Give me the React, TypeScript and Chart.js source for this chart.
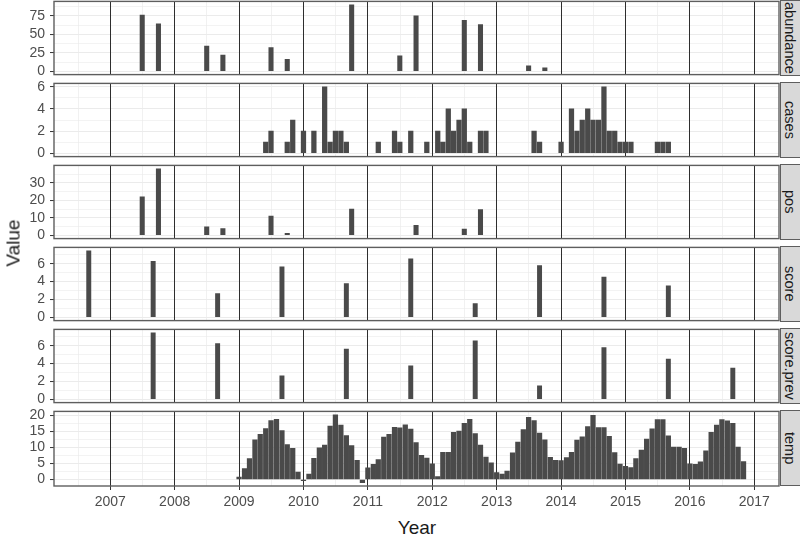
import React, { useEffect, useRef } from 'react';
import { Chart, registerables } from 'chart.js';

Chart.register(...registerables);

// ---------------- data ----------------
const yearTicks = [2007, 2008, 2009, 2010, 2011, 2012, 2013, 2014, 2015, 2016, 2017];

const abundanceDates = [
  '2007-07-01', '2007-10-01', '2008-07-01', '2008-10-01', '2009-07-01', '2009-10-01',
  '2010-10-01', '2011-07-01', '2011-10-01', '2012-07-01', '2012-10-01', '2013-07-01', '2013-10-01',
];
const abundanceValues = [76, 64, 34, 22, 32, 16, 90, 21, 75, 69, 63, 7.5, 4.5];

const casesMonths = [
  '2009-06', '2009-07', '2009-10', '2009-11', '2010-01', '2010-03', '2010-05', '2010-06', '2010-07',
  '2010-08', '2010-09', '2011-03', '2011-06', '2011-07', '2011-09', '2011-12', '2012-02', '2012-03',
  '2012-04', '2012-05', '2012-06', '2012-07', '2012-08', '2012-10', '2012-11', '2013-08', '2013-09',
  '2014-01', '2014-03', '2014-04', '2014-05', '2014-06', '2014-07', '2014-08', '2014-09', '2014-10',
  '2014-11', '2014-12', '2015-01', '2015-02', '2015-07', '2015-08', '2015-09',
];
const casesValues = [
  1, 2, 1, 3, 2, 2, 6, 1, 2,
  2, 1, 1, 2, 1, 2, 1, 2, 1,
  4, 2, 3, 4, 1, 2, 2, 2, 1,
  1, 4, 2, 3, 4, 3, 3, 6, 2,
  2, 1, 1, 1, 1, 1, 1,
];

const posDates = [
  '2007-07-01', '2007-10-01', '2008-07-01', '2008-10-01', '2009-07-01', '2009-10-01',
  '2010-10-01', '2011-10-01', '2012-07-01', '2012-10-01',
];
const posValues = [22, 38.2, 4.9, 3.8, 11, 1.1, 15, 5.7, 3.5, 14.8];

const scoreDates = [
  '2006-09-01', '2007-09-01', '2008-09-01', '2009-09-01', '2010-09-01',
  '2011-09-01', '2012-09-01', '2013-09-01', '2014-09-01', '2015-09-01',
];
const scoreValues = [7.45, 6.25, 2.65, 5.64, 3.76, 6.53, 1.53, 5.79, 4.51, 3.51];

const scorePrevDates = [
  '2007-09-01', '2008-09-01', '2009-09-01', '2010-09-01', '2011-09-01',
  '2012-09-01', '2013-09-01', '2014-09-01', '2015-09-01', '2016-09-01',
];
const scorePrevValues = [7.46, 6.25, 2.64, 5.64, 3.75, 6.54, 1.5, 5.79, 4.5, 3.5];

const tempStartYear = 2009;
const tempValues = [
  0.7, 3.4, 6.5, 12.4, 14.1, 15.9, 18.4, 18.8, 15.3, 10.9, 9.7, 2.3, // 2009
  -0.4, 1.7, 6.6, 9.9, 10.7, 16.7, 20.2, 17.0, 13.7, 10.6, 6.0, -1.0, // 2010
  3.6, 4.7, 6.2, 13.2, 14.1, 16.3, 16.1, 17.1, 15.7, 11.5, 7.5, 6.7, // 2011
  4.9, 0.9, 8.5, 8.5, 14.7, 15.1, 17.5, 18.8, 14.3, 10.7, 7.0, 5.2, // 2012
  2.1, 1.7, 2.6, 8.3, 11.7, 15.6, 19.4, 18.4, 14.5, 12.4, 6.9, 6.0, // 2013
  5.9, 6.8, 8.5, 12.3, 13.3, 16.5, 20.0, 16.2, 16.2, 13.5, 8.4, 4.8, // 2014
  4.1, 3.7, 6.5, 9.2, 12.6, 15.8, 18.7, 18.7, 13.6, 10.1, 10.1, 9.7, // 2015
  4.9, 4.7, 5.5, 8.9, 14.7, 17.0, 18.7, 18.3, 17.5, 10.1, 5.6, // 2016
];

const abundanceTicks = [0, 25, 50, 75];
const casesTicks = [0, 2, 4, 6];
const posTicks = [0, 10, 20, 30];
const scoreTicks = [0, 2, 4, 6];
const scorePrevTicks = [0, 2, 4, 6];
const tempTicks = [0, 5, 10, 15, 20];

const panelLabels = ['abundance', 'cases', 'pos', 'score', 'score.prev', 'temp'];

// ---------------- helpers ----------------
function toYear(s: string): number {
  const parts = s.split('-').map(Number);
  const y = parts[0];
  const m = parts[1] || 1;
  const d = parts[2] || 1;
  const start = Date.UTC(y, 0, 1);
  const end = Date.UTC(y + 1, 0, 1);
  return y + (Date.UTC(y, m - 1, d) - start) / (end - start);
}

const tempMonths = tempValues.map((_, i) => {
  const y = tempStartYear + Math.floor(i / 12);
  const m = (i % 12) + 1;
  return `${y}-${String(m).padStart(2, '0')}`;
});

// ---------------- style / layout ----------------
const FONT = '"Liberation Sans", Arial, Helvetica, sans-serif';
const BAR = '#4a4a4a';
const BORDER = '#5e5e5e';
const X_MIN = 2006.126;
const X_MAX = 2017.384;
const CANVAS_W = 780;
const Y_AXIS_W = 54;
const PANEL_TOPS = [0, 82, 164, 246, 328, 410];
const PANEL_H = 76;
const PAD = 12;
const X_AXIS_H = 30;

type PanelCfg = {
  label: string;
  dates: string[];
  values: number[];
  majors: number[];
  bar: number;
};

const panels: PanelCfg[] = [
  { label: panelLabels[0], dates: abundanceDates, values: abundanceValues, majors: abundanceTicks, bar: 4.4 },
  { label: panelLabels[1], dates: casesMonths, values: casesValues, majors: casesTicks, bar: 4.6 },
  { label: panelLabels[2], dates: posDates, values: posValues, majors: posTicks, bar: 4.4 },
  { label: panelLabels[3], dates: scoreDates, values: scoreValues, majors: scoreTicks, bar: 4.3 },
  { label: panelLabels[4], dates: scorePrevDates, values: scorePrevValues, majors: scorePrevTicks, bar: 4.3 },
  { label: panelLabels[5], dates: tempMonths, values: tempValues, majors: tempTicks, bar: 4.6 },
];

const xTickValues: number[] = [];
yearTicks.forEach((y) => {
  if (y - 0.5 > X_MIN) xTickValues.push(y - 0.5);
  xTickValues.push(y);
});
const isInt = (v: number) => Math.abs(v - Math.round(v)) < 1e-6;

const panelBorder = {
  id: 'panelBorder',
  afterDraw(chart: any) {
    const { ctx, chartArea: a } = chart;
    ctx.save();
    ctx.strokeStyle = BORDER;
    ctx.lineWidth = 1.4;
    ctx.strokeRect(a.left, a.top, a.right - a.left, a.bottom - a.top);
    ctx.restore();
  },
};

function Panel({ cfg, index }: { cfg: PanelCfg; index: number }) {
  const ref = useRef<HTMLCanvasElement | null>(null);
  const isBottom = index === panels.length - 1;
  const canvasH = PAD + PANEL_H + (isBottom ? X_AXIS_H : PAD);

  useEffect(() => {
    if (!ref.current) return;
    const lo = Math.min(0, ...cfg.values);
    const hi = Math.max(0, ...cfg.values);
    const r = hi - lo;
    const yMin = lo - 0.05 * r;
    const yMax = hi + 0.05 * r;
    const half = (cfg.majors[1] - cfg.majors[0]) / 2;
    const yTicks: number[] = [];
    for (let v = Math.ceil(yMin / half) * half; v <= yMax + 1e-9; v += half) yTicks.push(+v.toFixed(6));
    const isMajorY = (v: number) => cfg.majors.some((m) => Math.abs(m - v) < 1e-6);

    const points = cfg.dates.map((d, i) => ({ x: toYear(d), y: cfg.values[i] }));

    const chart = new Chart(ref.current, {
      type: 'bar',
      data: {
        datasets: [
          {
            data: points as any,
            backgroundColor: BAR,
            borderWidth: 0,
            barThickness: cfg.bar,
          },
        ],
      },
      options: {
        animation: false,
        responsive: false,
        events: [],
        layout: { padding: { top: PAD, bottom: isBottom ? 0 : PAD, left: 0, right: CANVAS_W - 779 } },
        plugins: { legend: { display: false }, tooltip: { enabled: false } },
        scales: {
          x: {
            type: 'linear',
            offset: false,
            min: X_MIN,
            max: X_MAX,
            afterBuildTicks: (s: any) => {
              s.ticks = xTickValues.map((v) => ({ value: v }));
            },
            afterFit: (s: any) => {
              s.height = isBottom ? X_AXIS_H : 0;
            },
            border: { display: false },
            grid: {
              z: -1,
              offset: false,
              color: (c: any) => (isInt(c.tick?.value ?? 0) ? '#2e2e2e' : '#EBEBEB'),
              lineWidth: (c: any) => (isInt(c.tick?.value ?? 0) ? 1 : 0.7),
              drawTicks: isBottom,
              tickLength: 4,
              tickColor: (c: any) => (isInt(c.tick?.value ?? 0) ? '#333333' : 'rgba(0,0,0,0)'),
              tickWidth: 1,
            },
            ticks: {
              display: isBottom,
              autoSkip: false,
              maxRotation: 0,
              minRotation: 0,
              padding: 4,
              color: '#4D4D4D',
              font: { family: FONT, size: 14 },
              callback: (v: any) => (isInt(Number(v)) ? String(Math.round(Number(v))) : ''),
            },
          },
          y: {
            type: 'linear',
            min: yMin,
            max: yMax,
            afterBuildTicks: (s: any) => {
              s.ticks = yTicks.map((v) => ({ value: v }));
            },
            afterFit: (s: any) => {
              s.width = Y_AXIS_W;
            },
            border: { display: false },
            grid: {
              z: -2,
              color: '#EBEBEB',
              lineWidth: (c: any) => (isMajorY(c.tick?.value ?? 0) ? 1.1 : 0.6),
              drawTicks: true,
              tickLength: 4,
              tickColor: (c: any) => (isMajorY(c.tick?.value ?? 0) ? '#333333' : 'rgba(0,0,0,0)'),
              tickWidth: 1,
            },
            ticks: {
              autoSkip: false,
              padding: 5,
              color: '#4D4D4D',
              font: { family: FONT, size: 14 },
              callback: (v: any) => (isMajorY(Number(v)) ? String(Math.round(Number(v))) : ''),
            },
          },
        },
      } as any,
      plugins: [panelBorder],
    });
    return () => chart.destroy();
  }, []);

  return (
    <canvas
      ref={ref}
      width={CANVAS_W}
      height={canvasH}
      style={{ position: 'absolute', left: 0, top: PANEL_TOPS[index] - PAD, width: CANVAS_W, height: canvasH }}
    />
  );
}

function Strip({ label, index }: { label: string; index: number }) {
  return (
    <div
      style={{
        position: 'absolute',
        left: 780,
        top: PANEL_TOPS[index],
        width: 22,
        height: PANEL_H,
        boxSizing: 'border-box',
        background: '#D9D9D9',
        border: `1px solid ${BORDER}`,
        display: 'flex',
        alignItems: 'center',
        justifyContent: 'center',
        overflow: 'hidden',
      }}
    >
      <span
        style={{
          writingMode: 'vertical-rl',
          fontFamily: FONT,
          fontSize: 14.5,
          color: '#1A1A1A',
          lineHeight: 1,
          whiteSpace: 'nowrap',
          marginRight: 2,
        }}
      >
        {label}
      </span>
    </div>
  );
}

export default function App() {
  return (
    <div
      style={{
        position: 'fixed',
        left: 0,
        top: 0,
        width: 800,
        height: 542,
        overflow: 'hidden',
        background: '#ffffff',
      }}
    >
      {panels.map((p, i) => (
        <Panel key={p.label} cfg={p} index={i} />
      ))}
      {panels.map((p, i) => (
        <Strip key={'s' + p.label} label={p.label} index={i} />
      ))}
      <div
        style={{
          position: 'absolute',
          left: 12.5,
          top: 243,
          transform: 'translate(-50%, -50%) rotate(-90deg)',
          fontFamily: FONT,
          fontSize: 19,
          color: '#1A1A1A',
          whiteSpace: 'nowrap',
          lineHeight: 1,
        }}
      >
        Value
      </div>
      <div
        style={{
          position: 'absolute',
          left: 417,
          top: 527,
          transform: 'translate(-50%, -50%)',
          fontFamily: FONT,
          fontSize: 19,
          color: '#1A1A1A',
          whiteSpace: 'nowrap',
          lineHeight: 1,
        }}
      >
        Year
      </div>
    </div>
  );
}
